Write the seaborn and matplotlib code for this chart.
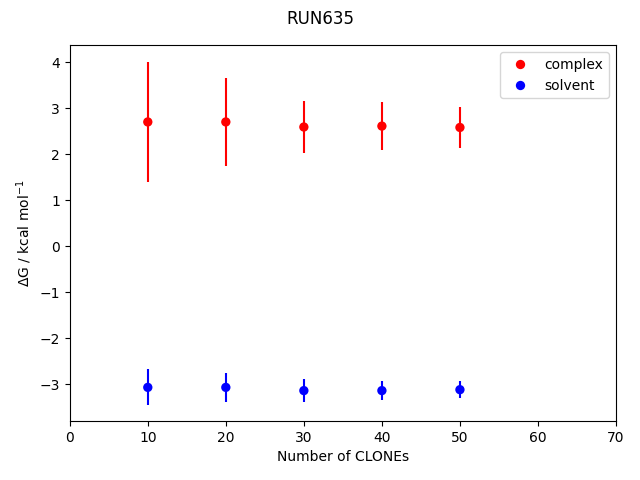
import numpy as np
import pandas as pd
import seaborn as sns
import matplotlib
matplotlib.use('Agg')
import matplotlib.pyplot as plt

# free energy vs number of clones
clones = [10, 20, 30, 40, 50]
complex_dg = [2.70, 2.70, 2.59, 2.61, 2.58]
complex_err = [1.30, 0.95, 0.56, 0.53, 0.45]
solvent_dg = [-3.07, -3.07, -3.14, -3.14, -3.12]
solvent_err = [0.39, 0.32, 0.245, 0.20, 0.18]

df = pd.DataFrame({
    'clones': clones * 2,
    'dg': complex_dg + solvent_dg,
    'phase': ['complex'] * len(clones) + ['solvent'] * len(clones),
})

fig, ax = plt.subplots(figsize=(6.4, 4.8), dpi=100)
sns.scatterplot(data=df, x='clones', y='dg', hue='phase',
                palette={'complex': 'red', 'solvent': 'blue'},
                s=45, edgecolor='none', ax=ax, zorder=3)
ax.errorbar(clones, complex_dg, yerr=complex_err, fmt='none', ecolor='red', elinewidth=1.5)
ax.errorbar(clones, solvent_dg, yerr=solvent_err, fmt='none', ecolor='blue', elinewidth=1.5)

ax.set_xlim(0, 70)
ax.set_ylim(-3.8, 4.37)
ax.set_xlabel('Number of CLONEs')
ax.set_ylabel(r'$\Delta$G / kcal mol$^{-1}$')
ax.legend(loc='upper right', title=None)
fig.suptitle('RUN635', y=0.98)
fig.subplots_adjust(left=0.109, right=0.9625, top=0.906, bottom=0.123)
fig.savefig('out.png', dpi=100)
